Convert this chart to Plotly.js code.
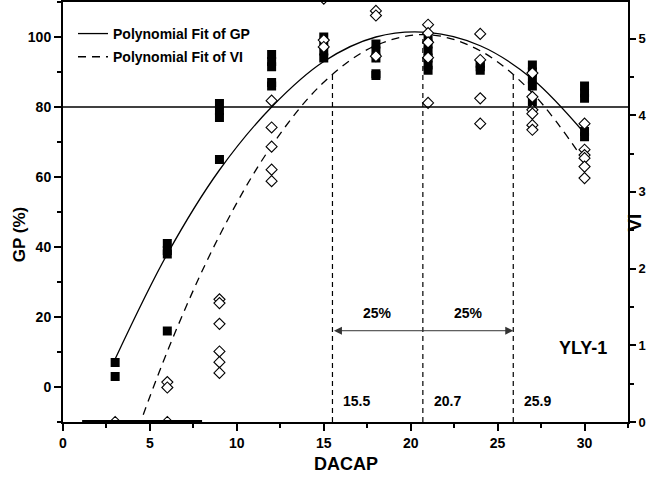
<!DOCTYPE html>
<html>
<head>
<meta charset="utf-8">
<script src="https://cdn.plot.ly/plotly-3.0.1.min.js"></script>
<style>html,body{margin:0;padding:0;background:#fff;}#chart{width:666px;height:482px;}</style>
</head>
<body>
<div id="chart"></div>
<script>
// ---- data ----
const gpX = [3,3, 6,6,6,6, 9,9,9,9, 12,12,12,12,12, 15,15,15,15, 18,18,18,18,18, 21,21,21,21,21,21, 24,24,24, 27,27,27,27,27, 30,30,30,30,30];
const gpY = [7,3, 41,39,38,16, 81,79,77,65, 95,93,91.5,87,86, 100,98,96,94, 98,96,94,89.5,89, 100,98,96,94,92,90.5, 92.5,91.5,90.5, 92,90,88,86,81.5, 86,84,82.5,73,71.5];

const viX = [3, 6,6,6, 9,9,9,9,9,9, 12,12,12,12,12, 15,15,15, 18,18,18, 21,21,21,21,21, 24,24,24,24, 27,27,27,27,27,27, 30,30,30,30,30,30];
const viY = [0, 0.52,0.45,0, 1.60,1.55,1.28,0.92,0.78,0.64, 4.19,3.84,3.59,3.29,3.14, 5.52,4.98,4.89, 5.36,5.30,4.77, 5.18,5.07,4.95,4.75,4.16, 5.06,4.72,4.22,3.89, 4.55,4.24,4.07,4.02,3.87,3.81, 3.89,3.55,3.48,3.44,3.33,3.18];

// fitted curves
const fitX   = [3, 6, 9, 12, 15, 18, 21, 24, 27, 30];
const fitGP  = [8, 38, 62, 80, 93, 100, 101.3, 97.5, 88, 72.5];
const fitVI  = [-0.94, 0.92, 2.43, 3.6, 4.43, 4.91, 5.05, 4.84, 4.29, 3.4];

// markers on the VI curve: optimum and ±25%
const markX   = [15.5, 20.7, 25.9];
const markTop = [4.53, 5.05, 4.53];
const markLabels = ['15.5', '20.7', '25.9'];
const rangeLabel = '25%';
const arrowVI = 1.19;
const gpThreshold = 80;
const baseSegX = [1.1, 8];
const baseSegY = [0, 0];
const siteLabel = 'YLY-1';

const FONT = 'Liberation Sans, Arial, sans-serif';

const traces = [];
traces.push({x: gpX, y: gpY, type: 'scatter', mode: 'markers', yaxis: 'y', showlegend: false,
  marker: {symbol: 'square', size: 9, color: '#000'}, cliponaxis: true});
traces.push({x: fitX, y: fitGP, type: 'scatter', mode: 'lines', yaxis: 'y', name: 'Polynomial Fit of GP',
  legendgroup: 'a', line: {color: '#000', width: 1.3, shape: 'spline'}});
traces.push({x: fitX, y: fitVI, type: 'scatter', mode: 'lines', yaxis: 'y2', name: 'Polynomial Fit of VI',
  legendgroup: 'b', line: {color: '#000', width: 1.3, shape: 'spline', dash: '8px,6px'}});
traces.push({x: viX, y: viY, type: 'scatter', mode: 'markers', yaxis: 'y2', showlegend: false,
  marker: {symbol: 'diamond', size: 8.5, color: '#fff', line: {color: '#000', width: 1.1}}, cliponaxis: true});
markX.forEach((mx, i) => {
  traces.push({x: [mx, mx], y: [0, markTop[i]], type: 'scatter', mode: 'lines', yaxis: 'y2', showlegend: false,
    line: {color: '#000', width: 1.2, dash: '5px,4px'}});
});
traces.push({x: baseSegX, y: baseSegY, type: 'scatter', mode: 'lines', yaxis: 'y2', showlegend: false,
  line: {color: '#000', width: 4}});

const annotations = [];
markX.forEach((mx, i) => {
  annotations.push({x: mx + 0.5, y: 0.28, xref: 'x', yref: 'y2', text: markLabels[i], showarrow: false,
    xanchor: 'left', yanchor: 'middle', font: {family: FONT, size: 14, weight: 'bold', color: '#000'}});
});
annotations.push({x: (markX[0] + markX[1]) / 2, y: 1.42, xref: 'x', yref: 'y2', text: rangeLabel, showarrow: false,
  font: {family: FONT, size: 14, weight: 'bold', color: '#000'}});
annotations.push({x: (markX[1] + markX[2]) / 2, y: 1.42, xref: 'x', yref: 'y2', text: rangeLabel, showarrow: false,
  font: {family: FONT, size: 14, weight: 'bold', color: '#000'}});
annotations.push({x: markX[2], y: arrowVI, ax: markX[0], ay: arrowVI, xref: 'x', yref: 'y2', axref: 'x', ayref: 'y2',
  text: '', showarrow: true, arrowside: 'end+start', arrowhead: 2, startarrowhead: 2, arrowsize: 1.6, startarrowsize: 1.6,
  arrowwidth: 1, arrowcolor: '#333', standoff: 0, startstandoff: 0});
annotations.push({x: 28.4, y: 0.965, xref: 'x', yref: 'y2', text: siteLabel, showarrow: false, xanchor: 'left',
  font: {family: FONT, size: 18, weight: 'bold', color: '#000'}});
annotations.push({x: -0.098, y: 0.445, xref: 'paper', yref: 'paper', text: 'GP (%)', showarrow: false, textangle: -90,
  font: {family: FONT, size: 17, weight: 'bold', color: '#000'}});
annotations.push({x: 1.0336, y: 0.476, xref: 'paper', yref: 'paper', text: 'VI', showarrow: false, textangle: -90,
  font: {family: FONT, size: 19, weight: 'bold', color: '#000'}});
annotations.push({x: 0.5, y: -0.126, xref: 'paper', yref: 'paper', text: 'DACAP', showarrow: false, borderpad: 0,
  font: {family: FONT, size: 18, weight: 'bold', color: '#000'}});

const tickFont = {family: FONT, size: 14, weight: 'bold', color: '#000'};
const layout = {
  width: 666, height: 482,
  margin: {l: 63, r: 38, t: 2, b: 60, pad: 0},
  paper_bgcolor: '#fff', plot_bgcolor: '#fff',
  font: {family: FONT, color: '#000'},
  showlegend: true,
  legend: {x: 0.0177, y: 0.962, xanchor: 'left', yanchor: 'top', bgcolor: 'rgba(0,0,0,0)',
    traceorder: 'grouped', tracegroupgap: 2,
    font: {family: FONT, size: 14, weight: 'bold', color: '#000'}},
  xaxis: {range: [0, 32.5], dtick: 5, tick0: 0, ticks: 'outside', ticklen: 7, tickwidth: 2, tickcolor: '#000',
    minor: {dtick: 2.5, ticks: 'outside', ticklen: 4, tickwidth: 2, tickcolor: '#000'},
    showline: true, linewidth: 2, linecolor: '#000', mirror: true, showgrid: false, zeroline: false,
    tickfont: tickFont},
  yaxis: {range: [-10, 110], dtick: 20, tick0: 0, ticks: 'outside', ticklen: 7, tickwidth: 2, tickcolor: '#000',
    minor: {dtick: 10, ticks: 'outside', ticklen: 4, tickwidth: 2, tickcolor: '#000'},
    showline: true, linewidth: 2, linecolor: '#000', showgrid: false, zeroline: false, tickfont: tickFont},
  yaxis2: {range: [0, 5.476], dtick: 1, tick0: 0, overlaying: 'y', side: 'right', ticks: 'outside', ticklen: 6,
    tickwidth: 2, tickcolor: '#000', minor: {dtick: 0.5, ticks: 'outside', ticklen: 4, tickwidth: 2, tickcolor: '#000'},
    showline: true, linewidth: 2, linecolor: '#000', showgrid: false, zeroline: false,
    tickfont: {family: FONT, size: 13, weight: 'bold', color: '#000'}},
  shapes: [{type: 'line', xref: 'paper', x0: 0, x1: 1, yref: 'y', y0: gpThreshold, y1: gpThreshold,
    line: {color: '#000', width: 1.3}}],
  annotations: annotations
};
Plotly.newPlot('chart', traces, layout, {staticPlot: true, displayModeBar: false});
</script>
</body>
</html>
